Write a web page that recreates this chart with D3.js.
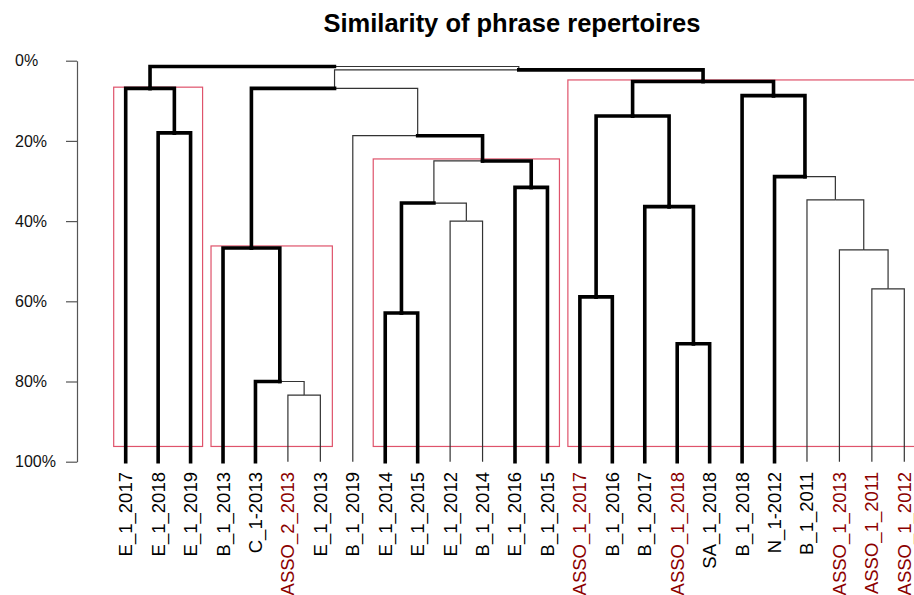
<!DOCTYPE html>
<html>
<head>
  <meta charset="utf-8">
  <title>Similarity of phrase repertoires</title>
  <style>
    body { margin: 0; background: #fff; }
    text { font-family: "Liberation Sans", Arial, sans-serif; }
  </style>
</head>
<body>
  <div id="graph"></div>

  <script src="https://cdn.jsdelivr.net/npm/d3@7"></script>
  <script>
    // leaf order, left to right
    const leaves = ["E_1_2017", "E_1_2018", "E_1_2019", "B_1_2013", "C_1-2013", "ASSO_2_2013",
      "E_1_2013", "B_1_2019", "E_1_2014", "E_1_2015", "E_1_2012", "B_1_2014", "E_1_2016",
      "B_1_2015", "ASSO_1_2017", "B_1_2016", "B_1_2017", "ASSO_1_2018", "SA_1_2018",
      "B_1_2018", "N_1-2012", "B_1_2011", "ASSO_1_2013", "ASSO_1_2011", "ASSO_1_2012"];

    // labels drawn in dark red
    const redLeaves = ["ASSO_2_2013", "ASSO_1_2017", "ASSO_1_2018", "ASSO_1_2013", "ASSO_1_2011", "ASSO_1_2012"];

    // merges: [node, left child, right child, height (% dissimilarity)]
    const merges = [
      ["c1", "ASSO_2_2013", "E_1_2013", 83.4],
      ["c2", "C_1-2013", "c1", 80.0],
      ["c3", "B_1_2013", "c2", 46.7],
      ["ee", "E_1_2014", "E_1_2015", 62.9],
      ["eb", "E_1_2012", "B_1_2014", 40.0],
      ["m1", "ee", "eb", 35.5],
      ["m2", "E_1_2016", "B_1_2015", 31.6],
      ["m3", "m1", "m2", 25.0],
      ["m4", "B_1_2019", "m3", 18.7],
      ["L", "c3", "m4", 6.9],
      ["e1", "E_1_2018", "E_1_2019", 18.0],
      ["A", "E_1_2017", "e1", 6.9],
      ["ab", "ASSO_1_2017", "B_1_2016", 58.9],
      ["as", "ASSO_1_2018", "SA_1_2018", 70.6],
      ["r1b", "B_1_2017", "as", 36.4],
      ["R1", "ab", "r1b", 13.8],
      ["a11", "ASSO_1_2011", "ASSO_1_2012", 56.9],
      ["a13", "ASSO_1_2013", "a11", 47.2],
      ["b11", "B_1_2011", "a13", 34.7],
      ["n12", "N_1-2012", "b11", 28.9],
      ["R2", "B_1_2018", "n12", 8.7],
      ["R", "R1", "R2", 5.2],
      ["X", "L", "R", 2.3],
      ["root", "A", "X", 1.45]
    ];

    // branches (leaf or node -> parent) drawn bold
    const boldBranches = ["E_1_2017", "E_1_2018", "E_1_2019", "e1", "A", "B_1_2013", "C_1-2013",
      "c2", "c3", "E_1_2014", "E_1_2015", "ee", "E_1_2016", "B_1_2015", "m2", "m3",
      "ASSO_1_2017", "B_1_2016", "ab", "B_1_2017", "ASSO_1_2018", "SA_1_2018", "as", "r1b",
      "R1", "B_1_2018", "N_1-2012", "n12", "R2", "R"];

    // highlighted clusters: [first leaf, last leaf, top height]
    const boxes = [
      ["E_1_2017", "E_1_2019", 6.6],
      ["B_1_2013", "E_1_2013", 46.2],
      ["E_1_2014", "B_1_2015", 24.5],
      ["ASSO_1_2017", "ASSO_1_2012", 4.8]
    ];
    const boxBottom = 96.2;

    const yTicks = [0, 20, 40, 60, 80, 100];

    const width = 914, height = 595;

    const svg = d3.select("#graph")
      .append("svg")
      .attr("width", width)
      .attr("height", height);

    svg.append("rect").attr("width", width).attr("height", height).attr("fill", "#fff");

    const x = d3.scalePoint().domain(leaves).range([125.7, 904.3]);
    const y = d3.scaleLinear().domain([0, 100]).range([60.7, 461.7]);

    // title
    svg.append("text")
      .attr("x", 512)
      .attr("y", 32)
      .attr("text-anchor", "middle")
      .attr("font-size", 25.5)
      .attr("font-weight", "bold")
      .text("Similarity of phrase repertoires");

    // y axis
    const yAxis = svg.append("g")
      .attr("transform", "translate(77,0)")
      .call(d3.axisLeft(y).tickValues(yTicks).tickFormat(d => d + "%").tickSize(11).tickSizeOuter(0));
    yAxis.select(".domain").attr("stroke", "#555").attr("stroke-width", 1.2);
    yAxis.selectAll(".tick line").attr("stroke", "#555").attr("stroke-width", 1.2);
    yAxis.selectAll(".tick text")
      .attr("x", -62)
      .attr("text-anchor", "start")
      .attr("font-size", 16)
      .attr("font-family", "Liberation Sans, Arial, sans-serif")
      .attr("fill", "#111");

    // build node positions
    const pos = {};
    leaves.forEach(l => pos[l] = { x: x(l), h: 100 });
    const parentOf = {};
    merges.forEach(([id, a, b, h]) => {
      pos[id] = { x: (pos[a].x + pos[b].x) / 2, h: h };
      parentOf[a] = id;
      parentOf[b] = id;
    });

    const bold = new Set(boldBranches);

    // boxes first (under the tree)
    const step = x.step();
    svg.append("g").selectAll("rect")
      .data(boxes)
      .join("rect")
      .attr("x", d => x(d[0]) - 0.37 * step)
      .attr("y", d => y(d[2]))
      .attr("width", d => x(d[1]) - x(d[0]) + 0.74 * step)
      .attr("height", d => y(boxBottom) - y(d[2]))
      .attr("fill", "none")
      .attr("stroke", "#DF536B")
      .attr("stroke-width", 1.2);

    // branches: child up to parent height, then across to parent x
    const branches = Object.keys(parentOf);
    const thin = branches.filter(b => !bold.has(b));
    const thick = branches.filter(b => bold.has(b));
    const branchPath = b => {
      const c = pos[b], p = pos[parentOf[b]];
      return `M${c.x},${y(c.h)}V${y(p.h)}H${p.x}`;
    };

    svg.append("g").selectAll("path")
      .data(thin)
      .join("path")
      .attr("d", branchPath)
      .attr("fill", "none")
      .attr("stroke", "#333")
      .attr("stroke-width", 1.2);

    svg.append("g").selectAll("path")
      .data(thick)
      .join("path")
      .attr("d", branchPath)
      .attr("fill", "none")
      .attr("stroke", "#000")
      .attr("stroke-width", 3.6)
      .attr("stroke-linejoin", "miter")
      .attr("stroke-linecap", "square");

    // leaf labels
    svg.append("g").selectAll("text")
      .data(leaves)
      .join("text")
      .attr("transform", d => `translate(${x(d)},472) rotate(-90)`)
      .attr("dy", "0.35em")
      .attr("text-anchor", "end")
      .attr("font-size", 18.5)
      .attr("fill", d => redLeaves.includes(d) ? "#8B0000" : "#000")
      .text(d => d);
  </script>
</body>
</html>
